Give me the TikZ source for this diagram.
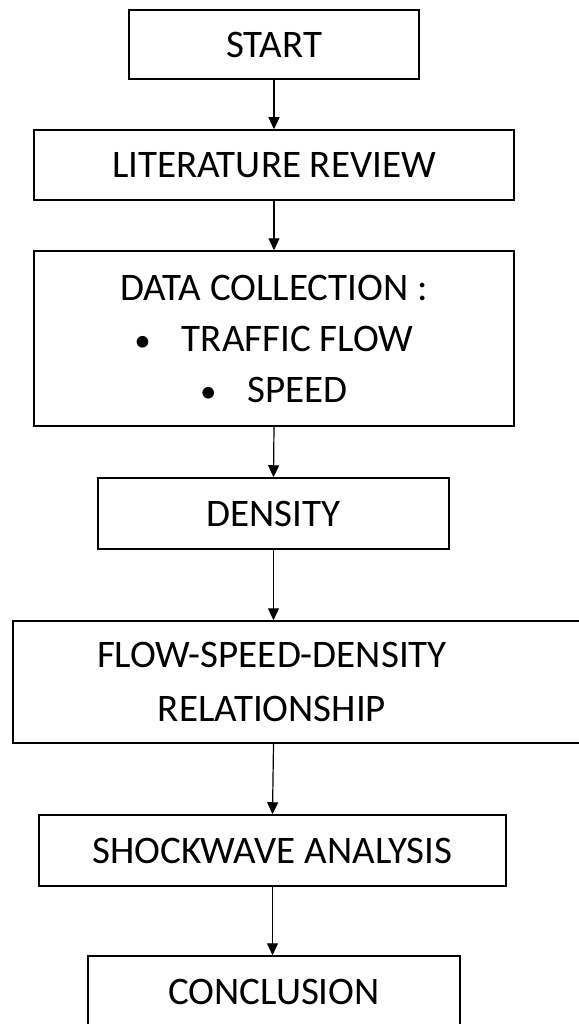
\documentclass[tikz,border=0pt]{standalone}
\usepackage{fontspec}
\setmainfont{Carlito}
\usetikzlibrary{arrows.meta}
\begin{document}
\begin{tikzpicture}[x=1pt,y=-1pt,
  box/.style={draw=black,line width=1.5pt,inner sep=0pt,align=center,
    font=\fontsize{39}{53}\selectfont},
  plain/.style={inner sep=0pt,align=center,font=\fontsize{39}{54}\selectfont},
  arr/.style={draw=black,line width=1.2pt,-{Triangle[width=11pt,length=12pt]}}]
\useasboundingbox (0,0) rectangle (578,1024);
\node[box,minimum width=290pt,minimum height=69pt] (start) at (274,44.5) {START};
\node[box,minimum width=480pt,minimum height=70pt] (lit) at (274,165) {LITERATURE REVIEW};
\node[box,minimum width=480pt,minimum height=175pt] (data) at (274,338.5)
  {DATA COLLECTION :\\[-2pt] {\fontsize{33}{53}\selectfont •}\hspace{31pt}TRAFFIC FLOW\\[-2pt] {\fontsize{33}{53}\selectfont •}\hspace{31pt}SPEED};
\node[box,minimum width=351pt,minimum height=71pt] (dens) at (273.5,513.5) {DENSITY};
\node[draw=black,line width=1.5pt,inner sep=0pt,minimum width=568pt,minimum height=122pt] (flow) at (297,682) {};
\node[plain] (flowtext) at (272,682) {FLOW-SPEED-DENSITY\\RELATIONSHIP};
\node[box,minimum width=467pt,minimum height=71pt] (shock) at (272.5,850.5) {SHOCKWAVE ANALYSIS};
\node[box,minimum width=372pt,minimum height=71pt] (concl) at (274,991.5) {CONCLUSION};
\draw[arr] (start.south) -- (lit.north);
\draw[arr] (lit.south) -- (data.north);
\draw[arr] (data.south) -- (dens.north);
\draw[arr] (dens.south) -- (dens.south |- flow.north);
\draw[arr] (flow.south -| dens.south) -- (shock.north);
\draw[arr] (shock.south) -- (shock.south |- concl.north);
\end{tikzpicture}
\end{document}
